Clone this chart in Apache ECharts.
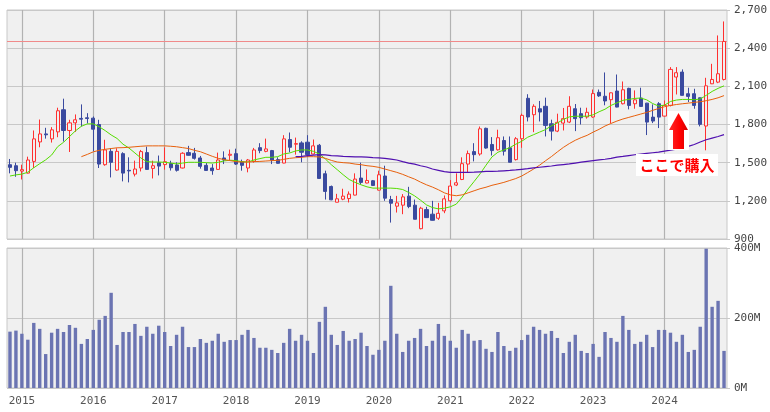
<!DOCTYPE html>
<html><head><meta charset="utf-8">
<script src="https://cdn.jsdelivr.net/npm/echarts@6/dist/echarts.min.js"></script>
<style>html,body{margin:0;padding:0;background:#fff}#c{width:770px;height:412px}</style>
</head><body><div id="c"></div>
<script>
const categories = [
 '2014/11','2014/12',
 '2015/01','2015/02','2015/03','2015/04','2015/05','2015/06','2015/07','2015/08','2015/09','2015/10','2015/11','2015/12',
 '2016/01','2016/02','2016/03','2016/04','2016/05','2016/06','2016/07','2016/08','2016/09','2016/10','2016/11','2016/12',
 '2017/01','2017/02','2017/03','2017/04','2017/05','2017/06','2017/07','2017/08','2017/09','2017/10','2017/11','2017/12',
 '2018/01','2018/02','2018/03','2018/04','2018/05','2018/06','2018/07','2018/08','2018/09','2018/10','2018/11','2018/12',
 '2019/01','2019/02','2019/03','2019/04','2019/05','2019/06','2019/07','2019/08','2019/09','2019/10','2019/11','2019/12',
 '2020/01','2020/02','2020/03','2020/04','2020/05','2020/06','2020/07','2020/08','2020/09','2020/10','2020/11','2020/12',
 '2021/01','2021/02','2021/03','2021/04','2021/05','2021/06','2021/07','2021/08','2021/09','2021/10','2021/11','2021/12',
 '2022/01','2022/02','2022/03','2022/04','2022/05','2022/06','2022/07','2022/08','2022/09','2022/10','2022/11','2022/12',
 '2023/01','2023/02','2023/03','2023/04','2023/05','2023/06','2023/07','2023/08','2023/09','2023/10','2023/11','2023/12',
 '2024/01','2024/02','2024/03','2024/04','2024/05','2024/06','2024/07','2024/08','2024/09','2024/10','2024/11'
];
const openPrices = [
 1484,1476,1434,1418,1510,1663,1726,1687,1742,1916,
 1753,1813,1848,1853,1850,1800,1484,1589,1442,1571,
 1440,1410,1458,1579,1455,1500,1485,1493,1482,1458,
 1579,1574,1537,1479,1458,1447,1537,1558,1571,1505,
 1458,1510,1618,1589,1595,1524,1497,1682,1645,1655,
 1661,1568,1637,1413,1313,1189,1213,1218,1245,1379,
 1340,1358,1284,1395,1210,1158,1166,1237,1166,981,
 1131,1095,1063,1121,1200,1324,1368,1489,1587,1568,
 1770,1643,1601,1674,1617,1524,1688,2006,1877,1924,
 1943,1806,1748,1811,1819,1924,1885,1859,1859,2053,
 2022,1995,2063,1963,2084,1963,2008,1968,1858,1963,
 1866,1950,2173,2212,2042,2042,2010,1788,2120,2133,
 2154
];
const closePrices = [
 1463,1437,1445,1521,1687,1726,1719,1758,1908,1753,
 1813,1837,1842,1847,1763,1489,1600,1503,1589,1418,
 1435,1450,1587,1447,1476,1473,1508,1460,1440,1574,
 1558,1534,1471,1439,1437,1521,1521,1566,1489,1479,
 1521,1600,1595,1608,1521,1495,1687,1621,1650,1582,
 1563,1632,1376,1274,1208,1216,1237,1253,1371,1345,
 1360,1321,1405,1221,1181,1184,1231,1155,1055,1142,
 1068,1047,1102,1216,1316,1342,1492,1571,1563,1766,
 1615,1595,1696,1590,1503,1688,1872,1859,1943,1898,
 1793,1748,1817,1846,1943,1846,1853,1896,2043,2025,
 1985,2049,1937,2073,1950,1994,1942,1819,1827,1858,
 1950,2233,2207,2029,2021,1950,1801,2104,2154,2199,
 2453
];
const highPrices = [
 1529,1500,1484,1547,1753,1839,1774,1779,1932,2003,
 1837,1879,1958,1889,1863,1837,1680,1613,1613,1582,
 1542,1516,1600,1626,1516,1556,1620,1515,1503,1582,
 1632,1616,1553,1497,1489,1579,1589,1603,1610,1524,
 1529,1616,1653,1689,1600,1542,1716,1737,1697,1668,
 1716,1682,1647,1437,1320,1255,1295,1274,1416,1500,
 1447,1364,1437,1476,1239,1239,1253,1310,1210,1153,
 1153,1200,1184,1242,1363,1416,1542,1595,1653,1784,
 1775,1701,1759,1706,1706,1701,1885,2038,1959,1985,
 2011,1838,1885,1930,2022,1961,1932,1932,2075,2075,
 2209,2052,2193,2138,2089,2068,2089,1970,1958,1976,
 1989,2251,2251,2233,2089,2081,2012,2167,2277,2500,
 2610
];
const lowPrices = [
 1416,1389,1368,1415,1458,1621,1689,1658,1700,1666,
 1584,1742,1784,1808,1589,1458,1476,1384,1437,1353,
 1345,1392,1431,1445,1376,1400,1445,1438,1430,1455,
 1556,1524,1453,1437,1405,1445,1489,1521,1482,1437,
 1424,1500,1574,1582,1489,1493,1495,1582,1563,1503,
 1547,1566,1374,1210,1205,1189,1205,1187,1243,1332,
 1337,1318,1282,1200,1029,1108,1095,1142,1055,976,
 1066,1045,1050,1103,1187,1316,1363,1424,1510,1555,
 1610,1556,1595,1556,1503,1517,1617,1824,1740,1824,
 1706,1674,1740,1753,1811,1748,1800,1846,1853,2017,
 1951,1811,1935,1958,1919,1924,1940,1717,1811,1772,
 1864,1942,2036,2029,1976,1924,1785,1597,2118,2125,
 2146
];
// moving average lines
const maShort = [
 1395,1404,1410,1425,1460,1492,1522,1560,1625,1660,
 1705,1750,1786,1805,1805,1782,1752,1718,1690,1645,
 1615,1576,1537,1508,1505,1505,1503,1497,1490,1497,
 1503,1503,1503,1500,1497,1503,1514,1519,1516,1508,
 1505,1521,1532,1542,1542,1547,1568,1576,1592,1600,
 1600,1589,1568,1529,1484,1445,1405,1368,1345,1326,
 1310,1300,1300,1300,1300,1297,1289,1266,1239,1205,
 1168,1147,1137,1142,1153,1174,1230,1294,1352,1412,
 1480,1545,1582,1600,1618,1645,1668,1700,1720,1740,
 1760,1790,1812,1840,1860,1865,1865,1865,1876,1900,
 1920,1950,1970,1990,1997,2005,2008,1994,1965,1945,
 1952,1981,1992,1997,1997,1995,2000,2029,2060,2084,
 2104
];
const maMidStart = 12;
const maMid = [
 1547,1565,1585,1597,1605,1611,1617,1618,1621,1625,
 1629,1632,1632,1632,1632,1629,1625,1618,1611,1597,
 1586,1568,1550,1534,1524,1516,1508,1505,1505,1508,
 1510,1513,1516,1518,1526,1534,1539,1542,1547,1547,
 1545,1534,1518,1505,1500,1497,1489,1484,1476,1471,
 1463,1450,1437,1424,1408,1389,1371,1347,1326,1308,
 1287,1263,1247,1240,1247,1263,1279,1295,1307,1322,
 1333,1345,1360,1375,1395,1422,1450,1480,1515,1548,
 1585,1620,1650,1676,1697,1715,1740,1762,1788,1808,
 1827,1843,1856,1869,1882,1895,1911,1926,1940,1950,
 1957,1963,1968,1974,1979,1987,1997,2010,2027
];
const maLongStart = 48;
const maLong = [
 1547,1550,1555,1560,1563,1561,1556,1553,1549,1547,
 1545,1545,1543,1540,1538,1534,1528,1521,1508,1497,
 1489,1476,1466,1450,1440,1430,1424,1424,1423,1423,
 1425,1428,1431,1431,1433,1436,1439,1443,1448,1453,
 1459,1464,1469,1474,1480,1485,1490,1497,1504,1510,
 1516,1522,1527,1534,1544,1549,1556,1562,1568,1573,
 1578,1583,1591,1599,1607,1617,1628,1643,1662,1680,
 1693,1706,1720
];
// volume in millions of shares
const volume = [
 161,164,155,138,186,169,97,158,169,160,
 180,172,126,140,166,195,206,272,123,160,
 160,183,149,175,155,178,160,120,152,175,
 117,117,140,129,135,155,132,137,137,152,
 166,143,115,115,109,100,129,169,135,152,
 135,100,189,232,152,123,163,135,140,158,
 120,95,109,135,292,155,103,135,143,169,
 120,135,183,149,135,115,166,155,135,137,
 112,103,160,120,106,115,137,152,175,166,
 155,163,143,100,132,152,106,100,126,89,
 160,143,132,206,166,126,132,152,117,166,
 166,158,132,152,103,109,175,398,232,249,
 106
];
const priceTicks = {min: 900, max: 2700, step: 300};
const volumeTicks = {min: 0, max: 400, step: 200};
const noteText = 'ここで購入';

const candleData = categories.map((c, i) => [openPrices[i], closePrices[i], lowPrices[i], highPrices[i]]);
const midData = new Array(maMidStart).fill(null).concat(maMid);
const longData = new Array(maLongStart).fill(null).concat(maLong);
const janIdx = categories.map((c, i) => c.slice(5) === '01' ? i : -1).filter(i => i >= 0);

const isJan = (idx, val) => String(val).slice(5) === '01';
const gridCol = '#c8c8c8';
const yearLineCol = '#b2b2b2';
const labelFont = {color: '#444', fontFamily: 'DejaVu Sans Mono', fontSize: 11};
const yearLineData = janIdx.map(i => ({xAxis: i}));

const chart = echarts.init(document.getElementById('c'), null, {renderer: 'canvas'});
chart.setOption({
  animation: false,
  backgroundColor: '#ffffff',
  grid: [
    {left: 7, right: 43, top: 10, height: 229, show: true, backgroundColor: '#f0f0f0', borderColor: gridCol, borderWidth: 1, outerBoundsMode: 'none', containLabel: false},
    {left: 7, right: 43, top: 248, height: 140, show: true, backgroundColor: '#f0f0f0', borderColor: gridCol, borderWidth: 1, outerBoundsMode: 'none', containLabel: false}
  ],
  xAxis: [
    {type: 'category', gridIndex: 0, data: categories, boundaryGap: true,
     axisLine: {show: false}, axisTick: {show: false}, axisLabel: {show: false}, splitLine: {show: false}},
    {type: 'category', gridIndex: 1, data: categories, boundaryGap: true,
     axisLine: {show: false}, axisTick: {show: false},
     axisLabel: Object.assign({show: true, interval: isJan, formatter: v => v.slice(0, 4), margin: 8, hideOverlap: false}, labelFont, {color: '#555'}),
     splitLine: {show: false}}
  ],
  yAxis: [
    {type: 'value', gridIndex: 0, position: 'right', min: priceTicks.min, max: priceTicks.max, interval: priceTicks.step,
     axisLine: {show: false}, axisTick: {show: true, length: 3, lineStyle: {color: gridCol}},
     axisLabel: Object.assign({margin: 7}, labelFont),
     splitLine: {show: true, lineStyle: {color: gridCol, width: 1}}},
    {type: 'value', gridIndex: 1, position: 'right', min: volumeTicks.min, max: volumeTicks.max, interval: volumeTicks.step,
     axisLine: {show: false}, axisTick: {show: true, length: 3, lineStyle: {color: gridCol}},
     axisLabel: Object.assign({margin: 7, formatter: '{value}M'}, labelFont),
     splitLine: {show: true, lineStyle: {color: gridCol, width: 1}}}
  ],
  series: [
    {type: 'candlestick', xAxisIndex: 0, yAxisIndex: 0, data: candleData, barWidth: 3.6, z: 3,
     itemStyle: {color: '#f0f0f0', color0: '#3a4a9f', borderColor: '#ff3030', borderColor0: '#3a4a9f', borderWidth: 1},
     markLine: {z: 1, silent: true, symbol: ['none', 'none'], label: {show: false},
       lineStyle: {color: yearLineCol, type: 'solid', width: 1.2, opacity: 1},
       data: yearLineData}},
    {type: 'line', xAxisIndex: 0, yAxisIndex: 0, data: maShort, showSymbol: false, symbol: 'none', z: 4,
     lineStyle: {color: '#55dd00', width: 1},
     markLine: {z: 2, silent: true, symbol: ['none', 'none'], label: {show: false},
       lineStyle: {color: '#f08a8a', type: 'solid', width: 1, opacity: 1},
       data: [{yAxis: closePrices[closePrices.length - 1]}]}},
    {type: 'line', xAxisIndex: 0, yAxisIndex: 0, data: midData, showSymbol: false, symbol: 'none', z: 4,
     lineStyle: {color: '#e8600c', width: 1}},
    {type: 'line', xAxisIndex: 0, yAxisIndex: 0, data: longData, showSymbol: false, symbol: 'none', z: 4,
     lineStyle: {color: '#5010b0', width: 1.2}},
    {type: 'bar', xAxisIndex: 1, yAxisIndex: 1, data: volume, barWidth: 3.4, z: 3,
     itemStyle: {color: '#6b74b2'},
     markLine: {z: 1, silent: true, symbol: ['none', 'none'], label: {show: false},
       lineStyle: {color: yearLineCol, type: 'solid', width: 1.2, opacity: 1}, data: yearLineData}}
  ],
  graphic: [
    {type: 'rect', shape: {x: 668, y: 111, width: 21, height: 39}, style: {fill: '#ffffff'}, z: 100},
    {type: 'polygon', shape: {points: [[678.5, 113], [669, 130], [673, 130], [673, 149], [684, 149], [684, 130], [688, 130]]},
     style: {fill: new echarts.graphic.LinearGradient(0, 0, 1, 0, [{offset: 0, color: '#ff2a2a'}, {offset: 0.6, color: '#ff0000'}, {offset: 1, color: '#d40000'}])}, z: 101},
    {type: 'rect', shape: {x: 636, y: 154, width: 82, height: 22}, style: {fill: '#ffffff'}, z: 100},
    {type: 'text', x: 677, y: 165.5, style: {text: noteText, fill: '#ff0000', font: 'bold 15px "Noto Sans CJK JP"', align: 'center', verticalAlign: 'middle'}, z: 101}
  ]
});
</script>
</body></html>
